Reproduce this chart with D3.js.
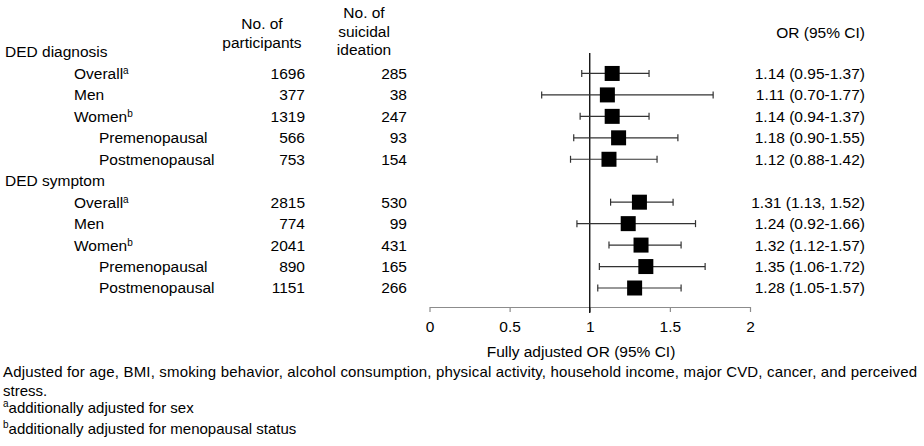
<!DOCTYPE html>
<html>
<head>
<meta charset="utf-8">
<script src="https://cdn.jsdelivr.net/npm/d3@7/dist/d3.min.js"></script>
<style>
  html, body { margin: 0; padding: 0; background: #fff; }
  svg { display: block; }
  text { font-family: "Liberation Sans", Arial, sans-serif; fill: #000; }
</style>
</head>
<body>
<svg id="chart" width="924" height="446"></svg>
<script>
// ---------------- data ----------------
const rowLabels = ["DED diagnosis", "Overall", "Men", "Women", "Premenopausal", "Postmenopausal",
                   "DED symptom", "Overall", "Men", "Women", "Premenopausal", "Postmenopausal"];
const rowSup = ["", "a", "", "b", "", "", "", "a", "", "b", "", ""];
const rowLevel = [0, 1, 1, 1, 2, 2, 0, 1, 1, 1, 2, 2];
const participants = [null, 1696, 377, 1319, 566, 753, null, 2815, 774, 2041, 890, 1151];
const suicidal = [null, 285, 38, 247, 93, 154, null, 530, 99, 431, 165, 266];
const orValues = [null, 1.14, 1.11, 1.14, 1.18, 1.12, null, 1.31, 1.24, 1.32, 1.35, 1.28];
const ciLower = [null, 0.95, 0.70, 0.94, 0.90, 0.88, null, 1.13, 0.92, 1.12, 1.06, 1.05];
const ciUpper = [null, 1.37, 1.77, 1.37, 1.55, 1.42, null, 1.52, 1.66, 1.57, 1.72, 1.57];
const orLabels = ["", "1.14 (0.95-1.37)", "1.11 (0.70-1.77)", "1.14 (0.94-1.37)", "1.18 (0.90-1.55)", "1.12 (0.88-1.42)",
                  "", "1.31 (1.13, 1.52)", "1.24 (0.92-1.66)", "1.32 (1.12-1.57)", "1.35 (1.06-1.72)", "1.28 (1.05-1.57)"];
const xTicks = [0, 0.5, 1, 1.5, 2];
const xTickLabels = ["0", "0.5", "1", "1.5", "2"];
const headerParticipants = ["No. of", "participants"];
const headerSuicidal = ["No. of", "suicidal", "ideation"];
const headerOR = "OR (95% CI)";
const axisTitle = "Fully adjusted OR (95% CI)";
const footnotes = [
  {sup: "", text: "Adjusted for age, BMI, smoking behavior, alcohol consumption, physical activity, household income, major CVD, cancer, and perceived"},
  {sup: "", text: "stress."},
  {sup: "a", text: "additionally adjusted for sex"},
  {sup: "b", text: "additionally adjusted for menopausal status"}
];

// ---------------- layout ----------------
const svg = d3.select("#chart");
const FS = 15.5;
const x = d3.scaleLinear().domain([0, 2]).range([429.5, 750]);
const y = d3.scalePoint().domain(d3.range(rowLabels.length)).range([52, 288]);
const axisY = 307;
const indentX = [5, 74, 99];
const colPartX = 305, colSuiX = 407, colORX = 865;

// headers
const hp = svg.append("g");
[24, 43].forEach((yy, i) => {
  hp.append("text").attr("x", 262).attr("y", yy).attr("dy", "0.35em")
    .attr("text-anchor", "middle").style("font-size", FS + "px").text(headerParticipants[i]);
});
[13, 32, 50].forEach((yy, i) => {
  hp.append("text").attr("x", 364).attr("y", yy).attr("dy", "0.35em")
    .attr("text-anchor", "middle").style("font-size", FS + "px").text(headerSuicidal[i]);
});
hp.append("text").attr("x", colORX).attr("y", 33).attr("dy", "0.35em")
  .attr("text-anchor", "end").style("font-size", FS + "px").text(headerOR);

// row labels
const rows = svg.append("g").selectAll("g.row").data(d3.range(rowLabels.length)).join("g").attr("class", "row");
rows.each(function(i) {
  const g = d3.select(this);
  const t = g.append("text").attr("x", indentX[rowLevel[i]]).attr("y", y(i)).attr("dy", "0.35em")
    .style("font-size", FS + "px");
  t.append("tspan").text(rowLabels[i]);
  if (rowSup[i]) {
    t.append("tspan").attr("dy", "-0.45em").style("font-size", "10px").text(rowSup[i]);
  }
  if (participants[i] != null) {
    g.append("text").attr("x", colPartX).attr("y", y(i)).attr("dy", "0.35em")
      .attr("text-anchor", "end").style("font-size", FS + "px").text(participants[i]);
    g.append("text").attr("x", colSuiX).attr("y", y(i)).attr("dy", "0.35em")
      .attr("text-anchor", "end").style("font-size", FS + "px").text(suicidal[i]);
    g.append("text").attr("x", colORX).attr("y", y(i)).attr("dy", "0.35em")
      .attr("text-anchor", "end").style("font-size", FS + "px").text(orLabels[i]);
  }
});

// axis
const axisG = svg.append("g").attr("transform", `translate(0,${axisY})`)
  .call(d3.axisBottom(x).tickValues(xTicks).tickFormat((d, i) => xTickLabels[i]).tickSize(5).tickPadding(9).tickSizeOuter(0));
axisG.select(".domain").attr("stroke", "#8c8c8c").attr("stroke-width", 1.2);
axisG.selectAll(".tick line").attr("stroke", "#8c8c8c").attr("stroke-width", 1.2);
axisG.selectAll(".tick text").style("font-size", FS + "px").style("font-family", '"Liberation Sans", Arial, sans-serif').attr("fill", "#000");

svg.append("text").attr("x", 581).attr("y", 352).attr("dy", "0.35em")
  .attr("text-anchor", "middle").style("font-size", FS + "px").text(axisTitle);

// reference line at OR = 1
svg.append("line").attr("x1", x(1)).attr("x2", x(1)).attr("y1", 53).attr("y2", axisY + 6)
  .attr("stroke", "#000").attr("stroke-width", 1.3);

// CI lines
const dataIdx = d3.range(rowLabels.length).filter(i => orValues[i] != null);
const ci = svg.append("g");
ci.selectAll("line.ci").data(dataIdx).join("line")
  .attr("x1", i => x(ciLower[i])).attr("x2", i => x(ciUpper[i]))
  .attr("y1", i => y(i)).attr("y2", i => y(i))
  .attr("stroke", "#333").attr("stroke-width", 1.2);
ci.selectAll("line.capL").data(dataIdx).join("line")
  .attr("x1", i => x(ciLower[i])).attr("x2", i => x(ciLower[i]))
  .attr("y1", i => y(i) - 3.5).attr("y2", i => y(i) + 3.5)
  .attr("stroke", "#333").attr("stroke-width", 1.2);
ci.append("g").selectAll("line").data(dataIdx).join("line")
  .attr("x1", i => x(ciUpper[i])).attr("x2", i => x(ciUpper[i]))
  .attr("y1", i => y(i) - 3.5).attr("y2", i => y(i) + 3.5)
  .attr("stroke", "#333").attr("stroke-width", 1.2);

// markers
const ms = 15;
svg.append("g").selectAll("rect").data(dataIdx).join("rect")
  .attr("x", i => x(orValues[i]) - ms / 2).attr("y", i => y(i) - ms / 2)
  .attr("width", ms).attr("height", ms).attr("fill", "#000");

// footnotes
const fy = [372, 390.5, 411, 432];
footnotes.forEach((f, i) => {
  const t = svg.append("text").attr("x", 3).attr("y", fy[i]).attr("dy", "0.35em").style("font-size", "15px");
  if (f.sup) t.append("tspan").attr("dy", "-0.45em").style("font-size", "10px").text(f.sup);
  const main = t.append("tspan").text(f.text);
  if (f.sup) main.attr("dy", "0.45em");
  if (i === 0) t.attr("textLength", 914).attr("lengthAdjust", "spacing");
});
</script>
</body>
</html>
